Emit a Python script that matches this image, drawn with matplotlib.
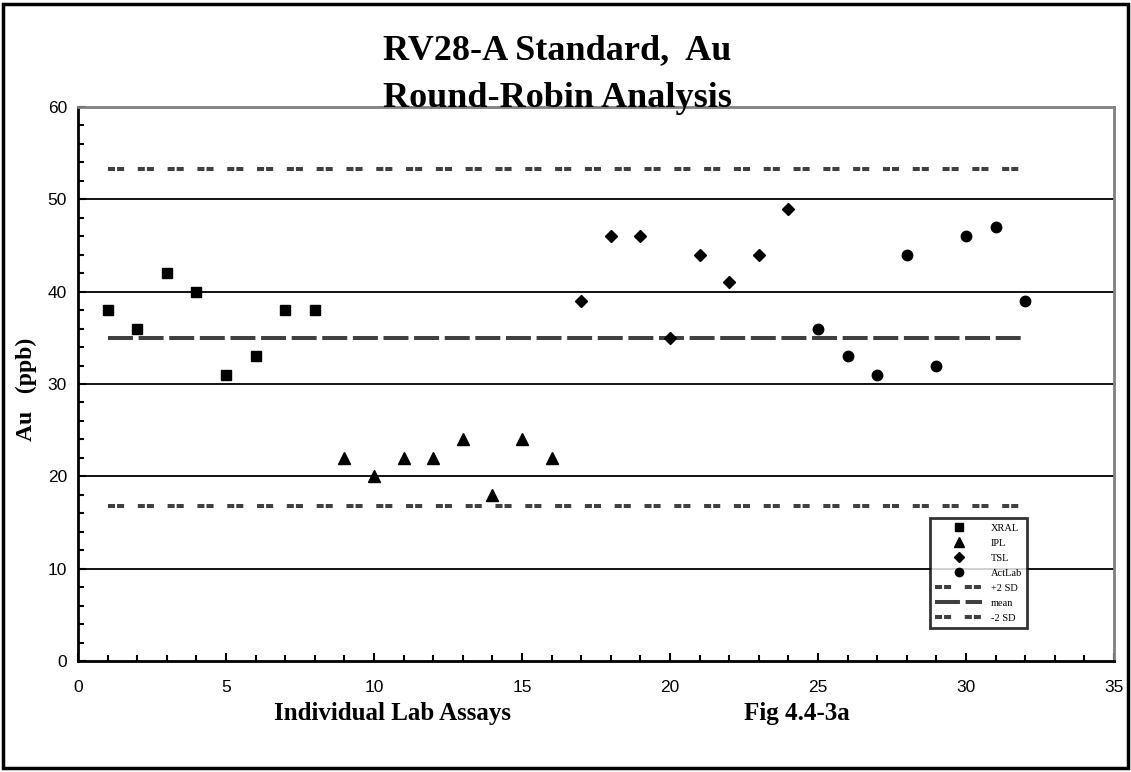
import matplotlib
matplotlib.use("Agg")
import matplotlib.pyplot as plt
from matplotlib.patches import Rectangle
from matplotlib.ticker import MultipleLocator

# --------------------------------------
# Data
# --------------------------------------
xral_x = [1, 2, 3, 4, 5, 6, 7, 8]
xral_y = [38, 36, 42, 40, 31, 33, 38, 38]

ipl_x = [9, 10, 11, 12, 13, 14, 15, 16]
ipl_y = [22, 20, 22, 22, 24, 18, 24, 22]

tsl_x = [17, 18, 19, 20, 21, 22, 23, 24]
tsl_y = [39, 46, 46, 35, 44, 41, 44, 49]

actlab_x = [25, 26, 27, 28, 29, 30, 31, 32]
actlab_y = [36, 33, 31, 44, 32, 46, 47, 39]

line_x = [1, 32]
plus2sd = [53.3, 53.3]
mean = [35.0, 35.0]
minus2sd = [16.8, 16.8]

SERIF = ["Liberation Serif", "DejaVu Serif"]
SANS = ["Liberation Sans", "DejaVu Sans"]

fig = plt.figure(figsize=(11.31, 7.72), dpi=100)
ax = fig.add_axes([0.069, 0.1438, 0.916, 0.7176])

# grid lines
for yv in [10, 20, 30, 40, 50]:
    ax.axhline(yv, color="black", lw=1.3, zorder=1)

pair_dash = (0, (1.75, 0.5, 1.75, 3.4))
h_p2, = ax.plot(line_x, plus2sd, color="#404040", lw=2.9, linestyle=pair_dash,
                label="+2 SD", zorder=2)
h_mean, = ax.plot(line_x, mean, color="#404040", lw=2.9, linestyle=(0, (6.2, 1.4)),
                  label="mean", zorder=2)
h_m2, = ax.plot(line_x, minus2sd, color="#404040", lw=2.9, linestyle=pair_dash,
                label="-2 SD", zorder=2)

h_xral, = ax.plot(xral_x, xral_y, "s", color="black", ms=7.5, label="XRAL", zorder=3)
h_ipl, = ax.plot(ipl_x, ipl_y, "^", color="black", ms=9, label="IPL", zorder=3)
h_tsl, = ax.plot(tsl_x, tsl_y, "D", color="black", ms=6.5, label="TSL", zorder=3)
h_act, = ax.plot(actlab_x, actlab_y, "o", color="black", ms=7.5, label="ActLab", zorder=3)

ax.set_xlim(0, 35)
ax.set_ylim(0, 60)
ax.xaxis.set_major_locator(MultipleLocator(5))
ax.xaxis.set_minor_locator(MultipleLocator(1))
ax.yaxis.set_major_locator(MultipleLocator(10))
ax.yaxis.set_minor_locator(MultipleLocator(2))
ax.tick_params(which="both", direction="in", top=False, right=False,
               width=1.5, color="black")
ax.tick_params(which="major", length=6)
ax.tick_params(which="minor", length=4)
ax.tick_params(axis="x", which="major", pad=14)
ax.tick_params(axis="y", which="major", pad=8)
for lab in ax.get_xticklabels() + ax.get_yticklabels():
    lab.set_family(SANS)
    lab.set_fontsize(12.5)

for side in ["left", "bottom"]:
    ax.spines[side].set_color("black")
    ax.spines[side].set_linewidth(2)
for side in ["top", "right"]:
    ax.spines[side].set_color("#808080")
    ax.spines[side].set_linewidth(2)

leg = ax.legend(
    handles=[h_xral, h_ipl, h_tsl, h_act, h_p2, h_mean, h_m2],
    loc="lower right", bbox_to_anchor=(0.921, 0.05),
    prop={"family": SERIF, "size": 7.5}, frameon=True, fancybox=False,
    edgecolor="black", handlelength=4.5, markerscale=0.8,
    borderpad=0.5, labelspacing=0.55,
)
leg.get_frame().set_linewidth(2)

# titles and labels
fig.text(0.4925, 0.935, "RV28-A Standard,  Au", ha="center", va="center",
         family=SERIF, fontsize=26, fontweight="bold")
fig.text(0.4925, 0.873, "Round-Robin Analysis", ha="center", va="center",
         family=SERIF, fontsize=26, fontweight="bold")
fig.text(0.023, 0.495, "Au   (ppb)", rotation=90, ha="center", va="center",
         family=SERIF, fontsize=17, fontweight="bold")
fig.text(0.347, 0.076, "Individual Lab Assays", ha="center", va="center",
         family=SERIF, fontsize=18, fontweight="bold")
fig.text(0.705, 0.076, "Fig 4.4-3a", ha="center", va="center",
         family=SERIF, fontsize=18, fontweight="bold")

# outer frame
fig.patches.append(Rectangle((0.003, 0.005), 0.994, 0.99, transform=fig.transFigure,
                             fill=False, edgecolor="black", lw=2.5))

fig.savefig("out.png", dpi=100)
